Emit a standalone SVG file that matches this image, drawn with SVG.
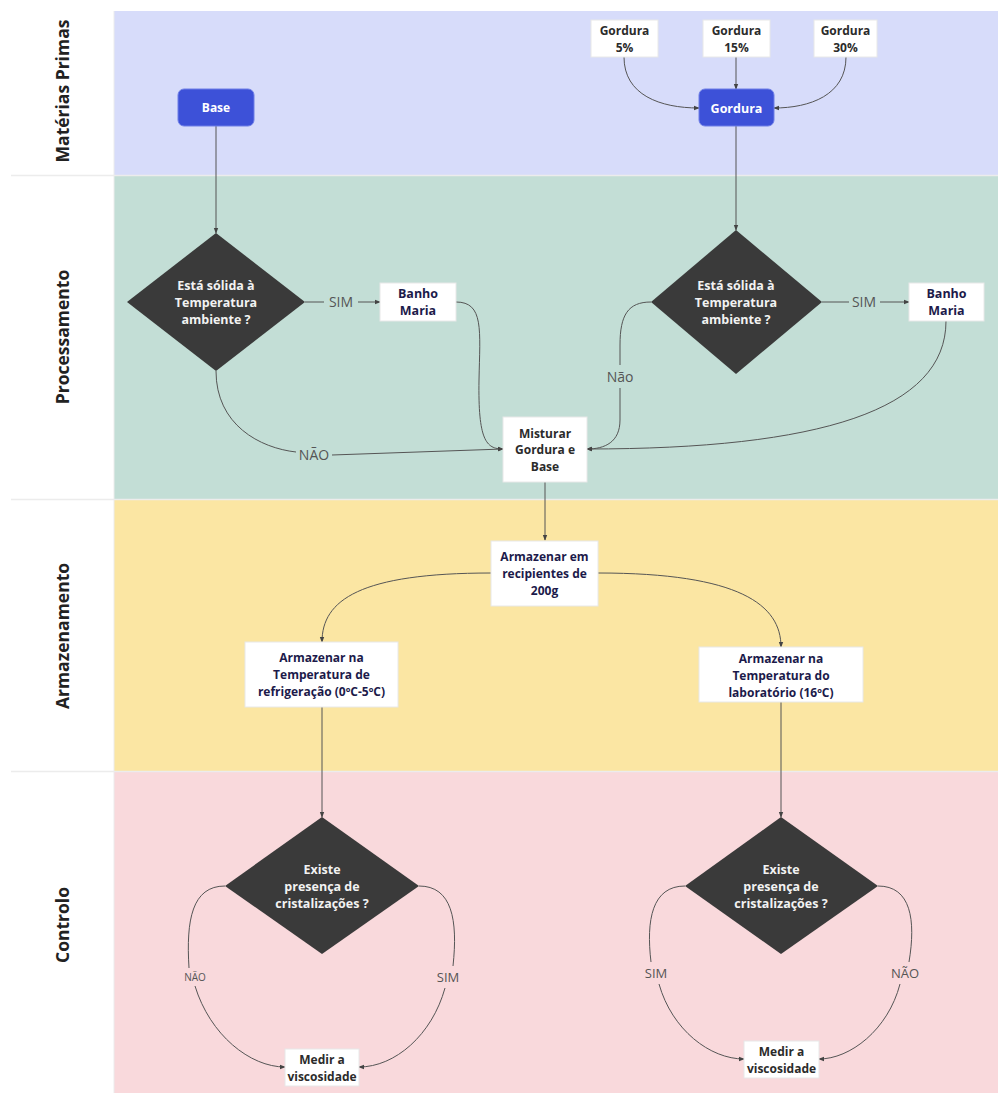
<svg xmlns="http://www.w3.org/2000/svg" width="998" height="1093" viewBox="0 0 998 1093">
<style>
.lanelbl{font-family:"Open Sans","Noto Sans",sans-serif;font-weight:700;font-size:17.5px;fill:#222;text-anchor:middle}
.box{fill:#fff;stroke:#e8e8e8;stroke-width:1}
.btn{fill:#3D51D8;stroke:#6f7fe6;stroke-width:1}
.dia{fill:#3a3a3a}
.t{font-family:"Open Sans","Noto Sans",sans-serif;font-weight:700;font-size:12px;text-anchor:middle}
.dt{font-size:12.5px}
.dk{fill:#2b2b2b}
.nv{fill:#1c1a4a}
.wh{fill:#f2f2f2}
.lbl{font-family:"Open Sans","Noto Sans",sans-serif;font-size:14px;fill:#555;text-anchor:middle}
.conn path{fill:none;stroke:#555;stroke-width:1}
</style>
<defs>
<marker id="ah" viewBox="0 0 8 8" refX="7" refY="4" markerWidth="6" markerHeight="6" orient="auto" markerUnits="userSpaceOnUse">
<path d="M0,1 L8,4 L0,7 z" fill="#444"/>
</marker>
</defs>
<rect x="0" y="0" width="998" height="1093" fill="#fff"/>
<g id="lanes">
<rect x="114" y="11" width="884" height="164" fill="#D7DCFA"/>
<rect x="114" y="176" width="884" height="323" fill="#C3DED6"/>
<rect x="114" y="500" width="884" height="271" fill="#FBE6A3"/>
<rect x="114" y="772" width="884" height="321" fill="#F9D9DC"/>
<line x1="11" y1="175.5" x2="998" y2="175.5" stroke="#ececec" stroke-width="1.5"/>
<line x1="11" y1="499.5" x2="998" y2="499.5" stroke="#ececec" stroke-width="1.5"/>
<line x1="11" y1="771.5" x2="998" y2="771.5" stroke="#ececec" stroke-width="1.5"/>
<line x1="114" y1="11" x2="114" y2="1093" stroke="#ececec" stroke-width="1"/>
<text class="lanelbl" transform="translate(69,91) rotate(-90)">Matérias Primas</text>
<text class="lanelbl" transform="translate(69,337) rotate(-90)">Processamento</text>
<text class="lanelbl" transform="translate(69,636) rotate(-90)">Armazenamento</text>
<text class="lanelbl" transform="translate(69,925) rotate(-90)">Controlo</text>
</g>
<g class="conn" id="connectors">
<path d="M624,57 C624,95 660,108 699,108" marker-end="url(#ah)"/>
<path d="M736,57 L736,89" marker-end="url(#ah)"/>
<path d="M846,57 C846,95 810,108 774,108" marker-end="url(#ah)"/>
<path d="M736,126 L736,230" marker-end="url(#ah)"/>
<path d="M216,126 L216,233" marker-end="url(#ah)"/>
<path d="M305,302 L324,302 M358,302 L380,302" marker-end="url(#ah)"/>
<path d="M822,302 L849,302 M880,302 L909,302" marker-end="url(#ah)"/>
<path d="M456,302 C484,302 480,330 479,380 C478,440 486,449 503,449" marker-end="url(#ah)"/>
<path d="M216,371 C216,425 260,448 296,452 M332,455 L503,449" marker-end="url(#ah)"/>
<path d="M651,302 C628,302 620,315 620,345 L620,365 M620,388 L620,420 C620,442 605,449 587,449" marker-end="url(#ah)"/>
<path d="M946,321 C946,410 820,449 587,449" marker-end="url(#ah)"/>
<path d="M545,482 L545,540" marker-end="url(#ah)"/>
<path d="M491,573 C360,573 322,600 322,642" marker-end="url(#ah)"/>
<path d="M598,573 C740,573 781,605 781,647" marker-end="url(#ah)"/>
<path d="M322,707 L322,817" marker-end="url(#ah)"/>
<path d="M781,702 L781,817" marker-end="url(#ah)"/>
<path d="M225,886 C192,886 186,920 189,968 M195,986 C210,1035 250,1067 285,1067" marker-end="url(#ah)"/>
<path d="M419,886 C452,886 458,920 453,966 M445,988 C432,1035 395,1067 359,1067" marker-end="url(#ah)"/>
<path d="M685,886 C652,886 646,920 651,962 M659,984 C672,1030 710,1059 744,1059" marker-end="url(#ah)"/>
<path d="M878,886 C911,886 916,920 909,962 M900,984 C888,1030 850,1059 819,1059" marker-end="url(#ah)"/>
</g>
<g id="edge-labels">
<text class="lbl" x="341" y="307">SIM</text>
<text class="lbl" x="864" y="307">SIM</text>
<text class="lbl" x="314" y="460">NÃO</text>
<text class="lbl" x="620" y="382">Não</text>
<text class="lbl" x="195" y="981" style="font-size:10px">NÃO</text>
<text class="lbl" x="448" y="982" style="font-size:13px">SIM</text>
<text class="lbl" x="656" y="978" style="font-size:13px">SIM</text>
<text class="lbl" x="905" y="978" style="font-size:13px">NÃO</text>
</g>
<g id="node-base">
<rect class="btn" x="178" y="89" width="76" height="37" rx="6"/>
<text class="t" x="216" y="112" fill="#fff">Base</text>
</g>
<g id="node-gordura">
<rect class="btn" x="699" y="89" width="75" height="37" rx="6"/>
<text class="t" x="736.5" y="112.5" fill="#fff" style="font-size:12.5px">Gordura</text>
</g>
<g id="node-g5">
<rect class="box" x="591" y="20" width="67" height="37"/>
<text class="t dk" x="624.5" y="35">Gordura</text>
<text class="t dk" x="624.5" y="52">5%</text>
</g>
<g id="node-g15">
<rect class="box" x="703" y="20" width="67" height="37"/>
<text class="t dk" x="736.5" y="35">Gordura</text>
<text class="t dk" x="736.5" y="52">15%</text>
</g>
<g id="node-g30">
<rect class="box" x="814" y="20" width="63" height="37"/>
<text class="t dk" x="845.5" y="35">Gordura</text>
<text class="t dk" x="845.5" y="52">30%</text>
</g>
<g id="node-dec1">
<polygon class="dia" points="216,233 305,302 216,371 127,302"/>
<text class="t dt wh" x="216" y="290">Está sólida à</text>
<text class="t dt wh" x="216" y="307">Temperatura</text>
<text class="t dt wh" x="216" y="324">ambiente ?</text>
</g>
<g id="node-banho1">
<rect class="box" x="380" y="283" width="76" height="38"/>
<text class="t dt nv" x="418" y="298">Banho</text>
<text class="t dt nv" x="418" y="315">Maria</text>
</g>
<g id="node-dec2">
<polygon class="dia" points="736,230 822,302 736,374 651,302"/>
<text class="t dt wh" x="736" y="290">Está sólida à</text>
<text class="t dt wh" x="736" y="307">Temperatura</text>
<text class="t dt wh" x="736" y="324">ambiente ?</text>
</g>
<g id="node-banho2">
<rect class="box" x="909" y="283" width="75" height="38"/>
<text class="t dt nv" x="946.5" y="298">Banho</text>
<text class="t dt nv" x="946.5" y="315">Maria</text>
</g>
<g id="node-misturar">
<rect class="box" x="503" y="417" width="84" height="65"/>
<text class="t dk" x="545" y="438">Misturar</text>
<text class="t dk" x="545" y="454">Gordura e</text>
<text class="t dk" x="545" y="471">Base</text>
</g>
<g id="node-armazenar">
<rect class="box" x="491" y="541" width="107" height="65"/>
<text class="t nv" x="544.5" y="561">Armazenar em</text>
<text class="t nv" x="544.5" y="578">recipientes de</text>
<text class="t nv" x="544.5" y="595">200g</text>
</g>
<g id="node-refrig">
<rect class="box" x="245" y="642" width="153" height="65"/>
<text class="t nv" x="321.5" y="662">Armazenar na</text>
<text class="t nv" x="321.5" y="679">Temperatura de</text>
<text class="t nv" x="321.5" y="696">refrigeração (0ºC-5ºC)</text>
</g>
<g id="node-lab">
<rect class="box" x="699" y="647" width="164" height="55"/>
<text class="t nv" x="781" y="663">Armazenar na</text>
<text class="t nv" x="781" y="680">Temperatura do</text>
<text class="t nv" x="781" y="697">laboratório (16ºC)</text>
</g>
<g id="node-dec3">
<polygon class="dia" points="322,817 419,886 322,954 225,886"/>
<text class="t dt wh" x="322" y="874">Existe</text>
<text class="t dt wh" x="322" y="891">presença de</text>
<text class="t dt wh" x="322" y="908">cristalizações ?</text>
</g>
<g id="node-dec4">
<polygon class="dia" points="781,817 878,886 781,954 685,886"/>
<text class="t dt wh" x="781" y="874">Existe</text>
<text class="t dt wh" x="781" y="891">presença de</text>
<text class="t dt wh" x="781" y="908">cristalizações ?</text>
</g>
<g id="node-medir1">
<rect class="box" x="285" y="1049" width="74" height="37"/>
<text class="t dk" x="322" y="1064">Medir a</text>
<text class="t dk" x="322" y="1081">viscosidade</text>
</g>
<g id="node-medir2">
<rect class="box" x="744" y="1041" width="75" height="37"/>
<text class="t dk" x="781.5" y="1056">Medir a</text>
<text class="t dk" x="781.5" y="1073">viscosidade</text>
</g>
</svg>
